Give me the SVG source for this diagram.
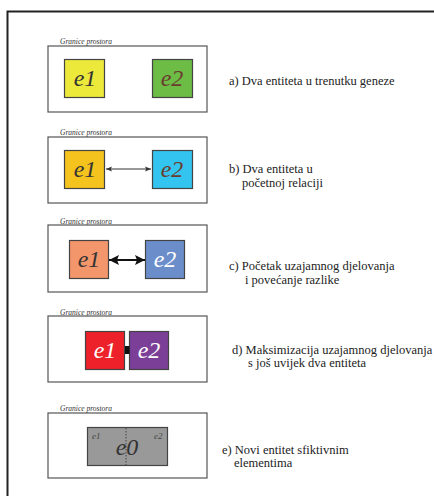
<svg xmlns="http://www.w3.org/2000/svg" width="434" height="496" viewBox="0 0 434 496">
<style>
.frame{fill:none;stroke:#222;stroke-width:2}
.panel{fill:#fff;stroke:#555;stroke-width:1.2}
.ent{stroke:#444;stroke-width:1.2}
.lbl{font-family:"Liberation Serif","Times New Roman",Times,serif;font-style:italic;font-size:7.5px;fill:#333}
.en{font-family:"Liberation Serif","Times New Roman",Times,serif;font-style:italic;font-size:24px;text-anchor:middle}
.sm{font-family:"Liberation Serif","Times New Roman",Times,serif;font-style:italic;font-size:9px;fill:#444}
.cap{font-family:"Liberation Serif","Times New Roman",Times,serif;font-size:12.5px;fill:#222}
</style>
<defs>
<marker id="ah" viewBox="0 0 10 10" refX="10" refY="5" markerWidth="6" markerHeight="6" orient="auto-start-reverse" markerUnits="userSpaceOnUse">
<path d="M0,1 L10,5 L0,9 L2,5 Z" fill="#333"/>
</marker>
<marker id="ahb" viewBox="0 0 10 10" refX="10" refY="5" markerWidth="10" markerHeight="10" orient="auto-start-reverse" markerUnits="userSpaceOnUse">
<path d="M0,0 L10,5 L0,10 L2,5 Z" fill="#111"/>
</marker>
</defs>
<rect class="frame" x="7.5" y="11.5" width="440" height="500"/>

<g id="panel-a">
<text class="lbl" x="60" y="44">Granice prostora</text>
<rect class="panel" x="48" y="46" width="159" height="66"/>
</g>
<g id="a-e1"><rect class="ent" x="64.5" y="59.5" width="40" height="38" fill="#ede93b"/><text class="en" x="85" y="86" fill="#333">e1</text></g>
<g id="a-e2"><rect class="ent" x="152.5" y="59.5" width="40" height="38" fill="#6cbc46"/><text class="en" x="172" y="86" fill="#6b3b2e">e2</text></g>
<text class="cap" x="229" y="85">a) Dva entiteta u trenutku geneze</text>

<g id="panel-b">
<text class="lbl" x="60" y="135">Granice prostora</text>
<rect class="panel" x="48" y="137" width="159" height="66"/>
</g>
<g id="b-e1"><rect class="ent" x="64.5" y="150.5" width="40" height="38" fill="#f5c31d"/><text class="en" x="85" y="177" fill="#333">e1</text></g>
<g id="b-e2"><rect class="ent" x="152.5" y="150.5" width="40" height="38" fill="#33c4ef"/><text class="en" x="172" y="177" fill="#6b3b2e">e2</text></g>
<text class="cap" x="229" y="173">b) Dva entiteta u</text>
<text class="cap" x="242" y="187">početnoj relaciji</text>

<g id="panel-c">
<text class="lbl" x="60" y="224">Granice prostora</text>
<rect class="panel" x="48" y="225" width="159" height="67"/>
</g>
<g id="c-e1"><rect class="ent" x="69.5" y="240.5" width="39" height="38" fill="#f4966b"/><text class="en" x="89" y="267" fill="#333">e1</text></g>
<g id="c-e2"><rect class="ent" x="145.5" y="240.5" width="39" height="38" fill="#6b8ecb"/><text class="en" x="165" y="267" fill="#fff">e2</text></g>
<text class="cap" x="229" y="270">c) Početak uzajamnog djelovanja</text>
<text class="cap" x="245" y="284">i povećanje razlike</text>

<g id="panel-d">
<text class="lbl" x="60" y="315">Granice prostora</text>
<rect class="panel" x="48" y="316" width="159" height="66"/>
</g>
<g id="d-e1"><rect class="ent" x="85.5" y="331.5" width="39" height="38" fill="#ec2129"/><text class="en" x="105" y="358" fill="#fff">e1</text></g>
<g id="d-e2"><rect class="ent" x="129.5" y="331.5" width="39" height="38" fill="#7c3f98"/><text class="en" x="149" y="358" fill="#fff">e2</text></g>
<text class="cap" x="232" y="354">d) Maksimizacija uzajamnog djelovanja</text>
<text class="cap" x="248" y="367">s još uvijek dva entiteta</text>

<g id="panel-e">
<text class="lbl" x="60" y="411">Granice prostora</text>
<rect class="panel" x="48" y="413" width="159" height="65"/>
</g>
<g id="e-e0">
<rect class="ent" x="87.5" y="427.5" width="80" height="38" fill="#999"/>
<line x1="126" y1="428" x2="126" y2="465" stroke="#444" stroke-width="1" stroke-dasharray="1.5,1.5"/>
<text class="sm" x="92" y="439">e1</text>
<text class="sm" x="154" y="439">e2</text>
<text class="en" x="127" y="455" fill="#333">e0</text>
</g>
<text class="cap" x="222" y="454">e) Novi entitet sfiktivnim</text>
<text class="cap" x="234" y="467">elementima</text>

<g id="connectors">
<line x1="106" y1="169" x2="151" y2="169" stroke="#333" stroke-width="1" marker-start="url(#ah)" marker-end="url(#ah)"/>
<line x1="109" y1="260" x2="145" y2="260" stroke="#111" stroke-width="2.2" marker-start="url(#ahb)" marker-end="url(#ahb)"/>
<rect x="125" y="346" width="4.5" height="8" fill="#111"/>
</g>
</svg>
